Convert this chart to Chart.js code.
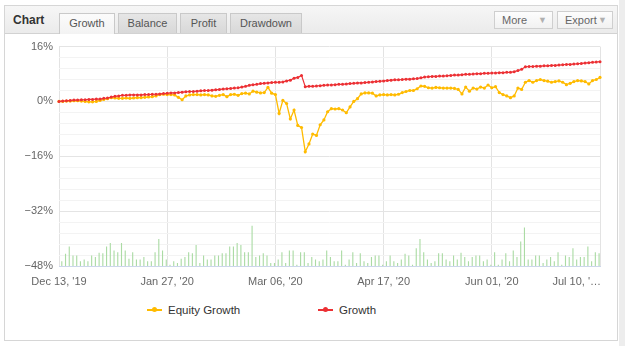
<!DOCTYPE html>
<html lang="en">
<head>
<meta charset="UTF-8">
<title>Chart - Growth</title>
<script src="https://cdn.jsdelivr.net/npm/chart.js@4.4.1/dist/chart.umd.min.js"></script>
<style>
    body { margin: 0; background: #fff; font-family: "Liberation Sans", Arial, sans-serif; }
    #panel { position: absolute; left: 4px; top: 5px; width: 612px; height: 334px; border: 1px solid #d6d6d6; background: #fff; }
    #head { position: absolute; left: 0; top: 0; width: 612px; height: 27px; background: linear-gradient(#f6f6f6, #ebebeb); border-bottom: 1px solid #d2d2d2; }
    #head .title { position: absolute; left: 8px; top: 7px; font-size: 12px; font-weight: bold; color: #333; }
    .tab { position: absolute; top: 7px; height: 19px; line-height: 19px; text-align: center; font-size: 11px; color: #555;
           border: 1px solid #c9c9c9; border-bottom: none; background: linear-gradient(#e6e6e6, #d8d8d8); }
    .tab.on { background: linear-gradient(#fbfbfb, #f3f3f3); height: 20px; }
    .btn { position: absolute; top: 5px; height: 16px; line-height: 16px; font-size: 11px; color: #666; padding-left: 7px;
           border: 1px solid #cfcfcf; background: linear-gradient(#fdfdfd, #f1f1f1); }
    .btn span { position: absolute; right: 5px; top: 0; font-size: 9px; color: #b0b0b0; }
    #wrap { position: absolute; left: 5px; top: 34px; width: 607px; height: 262px; }
    .lg { position: absolute; top: 302px; font-size: 11.5px; color: #333; height: 16px; line-height: 16px; }
    .lg i { display: inline-block; position: relative; width: 15px; height: 2px; vertical-align: middle; margin: 0 6px 2px 0; }
    .lg i::after { content: ""; position: absolute; left: 5px; top: -1.5px; width: 5px; height: 5px; border-radius: 50%; background: inherit; }
    #side { position: absolute; left: 619px; top: 0; width: 6px; height: 346px; background: #ededed; }
</style>
</head>
<body>
<div id="panel">
    <div id="head">
        <div class="title">Chart</div>
        <div class="tab on" style="left:54px;width:54px">Growth</div>
        <div class="tab" style="left:113px;width:57px">Balance</div>
        <div class="tab" style="left:175px;width:45px">Profit</div>
        <div class="tab" style="left:225px;width:70px">Drawdown</div>
        <div class="btn" style="left:489px;width:50px">More<span>&#9660;</span></div>
        <div class="btn" style="left:552px;width:47px">Export<span>&#9660;</span></div>
    </div>
</div>
<div id="side"></div>
<div id="wrap"><canvas id="growthChart"></canvas></div>
<div class="lg" style="left:147px"><i style="background:#ffbb00"></i>Equity Growth</div>
<div class="lg" style="left:318px"><i style="background:#ec3034"></i>Growth</div>
<script>
    // x axis tick labels, one every 29 trading days
    const tickLabels = ["Dec 13, '19", "Jan 27, '20", "Mar 06, '20", "Apr 17, '20", "Jun 01, '20", "Jul 10, '\u2026"];
    const tickEvery = 29;

    // Growth (%), closed balance
    const growth = [
        0, 0.1, 0.2, 0.3, 0.4, 0.4, 0.5, 0.5, 0.6, 0.6, 0.7, 0.7, 0.9, 1.0, 1.3, 1.5, 1.6, 1.8, 1.8, 1.9,
        1.9, 1.9, 1.9, 2.0, 2.0, 2.1, 2.1, 2.2, 2.3, 2.4,
        2.5, 2.5, 2.6, 2.7, 2.8, 2.9, 2.9, 3.0, 3.1, 3.2, 3.2, 3.3, 3.4, 3.5, 3.6, 3.7, 3.8, 3.9, 4.0, 4.2,
        4.4, 4.7, 4.9, 5.0, 5.2, 5.3, 5.4, 5.5, 5.6,
        5.6, 5.7, 6.0, 6.2, 6.8, 7.0, 7.6, 4.3, 4.4, 4.4, 4.5, 4.6, 4.7, 4.8, 4.8, 4.9, 5.0, 5.0, 5.1, 5.2,
        5.3, 5.4, 5.4, 5.5, 5.6, 5.7, 5.8, 5.9, 6.0,
        6.1, 6.2, 6.3, 6.3, 6.4, 6.5, 6.5, 6.6, 6.7, 6.9, 7.1, 7.2, 7.3, 7.3, 7.4, 7.4, 7.5, 7.6, 7.7, 7.7,
        7.8, 7.9, 7.9, 8.0, 8.1, 8.1, 8.2, 8.2, 8.3,
        8.3, 8.4, 8.4, 8.5, 8.5, 8.7, 9.0, 9.4, 10.1, 10.2, 10.2, 10.3, 10.3, 10.4, 10.4, 10.5, 10.5, 10.6, 10.7, 10.8,
        10.8, 10.9, 11.0, 11.1, 11.2, 11.3, 11.4, 11.5, 11.6
    ];

    // Equity growth (%), including floating results
    const equityGrowth = [
        0, 0, 0.1, 0.1, 0.2, 0.2, 0.1, 0.0, -0.1, -0.1, 0.0, 0.3, 0.6, 0.8, 1.1, 1.0, 0.9, 0.9, 1.0, 0.9,
        1.0, 1.1, 1.1, 1.2, 1.3, 1.4, 1.6, 2.0, 2.1, 2.0,
        2.0, 1.9, 1.2, 0.5, 1.6, 1.9, 2.0, 2.0, 1.9, 2.0, 1.9, 1.6, 1.5, 1.8, 2.0, 1.4, 2.0, 2.1, 1.8, 2.3,
        2.4, 2.2, 3.0, 2.7, 2.5, 2.6, 4.1, 2.4, 2.0,
        -3.5, 0.3, -0.6, -5.1, -2.5, -7.0, -7.6, -14.7, -12.4, -9.5, -9.9, -6.8, -5.4, -3.0, -2.1, -2.2, -2.1, -2.5, -3.3, -1.6,
        0.0, 0.8, 2.2, 2.5, 2.5, 2.4, 1.6, 1.9, 2.0,
        1.9, 2.0, 1.9, 2.1, 2.6, 2.9, 3.2, 3.2, 3.7, 4.5, 4.4, 4.0, 3.9, 4.1, 4.0, 3.9, 3.9, 3.9, 3.8, 3.5,
        2.2, 4.2, 3.0, 3.9, 3.6, 4.2, 3.9, 4.8, 4.0,
        4.3, 2.6, 2.0, 1.6, 1.1, 1.6, 3.9, 3.5, 5.6, 6.1, 5.6, 6.1, 6.4, 6.1, 5.9, 5.6, 5.8, 6.0, 5.6, 4.9,
        5.3, 5.8, 6.1, 6.0, 5.8, 5.1, 6.1, 6.4, 7.0
    ];

    // daily activity bars along the bottom (relative units)
    const dailyActivity = [
        4.7, 12.3, 19.7, 10.7, 10.7, 4.7, 6.7, 4.7, 10.7, 9, 13.3, 13, 19.7, 23.3, 15.7, 14, 23.3, 15.7, 7.3, 14,
        6.7, 6.7, 9, 4.7, 4.7, 14, 27.3, 15.7, 6.7, 1.3, 4.7, 3, 7.3, 9, 14, 13, 21.3, 3, 10.7, 6.7,
        6.7, 10.7, 10.7, 13, 13, 19.7, 19.7, 23.3, 21.3, 14, 14, 40.7, 9, 10.7, 13, 10.7, 3, 3, 6.7, 14,
        3, 15.7, 15.7, 1.3, 14, 14, 3, 9, 6.7, 4.7, 6.7, 15.7,
        9, 4.7, 4.7, 15.7, 1.3, 6.7, 14, 3, 13, 4.7, 3, 9, 10.7, 10.7, 1.3, 4.7, 10.7, 4.7, 3, 6.7,
        12.3, 10.7, 1.3, 18, 27.3, 14, 6.7, 3, 4.7, 13, 13, 6.7, 4.7, 10.7, 6.7, 13.3, 9, 4.7, 9, 10.7,
        10.7, 4.7, 6.7, 1.3, 14, 1.3, 6.7, 13, 4.7, 15.7, 9, 24.7, 39, 6.7, 6.7, 10.7, 10.7, 3, 6.7, 9,
        4.7, 14, 1.3, 10.7, 9, 18, 6.7, 9, 9, 19.7, 4.7, 14, 13
    ];
    const activityMax = 222;

    const days = growth.map((_, i) => i);
    const activityDays = dailyActivity.map((_, i) => i);

    Chart.defaults.font.family = '"Liberation Sans", Arial, sans-serif';
    Chart.defaults.font.size = 11;
    Chart.defaults.color = '#666';

    const isMajor = (v) => Math.abs(v % 16) < 0.01;

    // draw the date labels under the plot (last one flush right like the original)
    const dateLabels = {
        id: 'dateLabels',
        afterDraw(chart) {
            const {ctx, chartArea, scales} = chart;
            ctx.save();
            ctx.font = '11px "Liberation Sans", Arial, sans-serif';
            ctx.fillStyle = '#666';
            ctx.textBaseline = 'middle';
            tickLabels.forEach((label, k) => {
                const px = scales.x.getPixelForValue(k * tickEvery);
                ctx.textAlign = k === tickLabels.length - 1 ? 'right' : 'center';
                ctx.fillText(label, px + (k === tickLabels.length - 1 ? 1 : 0), chartArea.bottom + 16);
            });
            ctx.restore();
        }
    };

    new Chart(document.getElementById('growthChart'), {
        type: 'line',
        data: {
            labels: days,
            datasets: [
                {
                    label: 'Growth',
                    data: growth,
                    borderColor: '#ec3034',
                    backgroundColor: '#ec3034',
                    borderWidth: 1.2,
                    pointRadius: 1.5,
                    pointBorderWidth: 0,
                    tension: 0,
                    order: 0
                },
                {
                    label: 'Equity Growth',
                    data: equityGrowth,
                    borderColor: '#ffbb00',
                    backgroundColor: '#ffbb00',
                    borderWidth: 1.3,
                    pointRadius: 1.6,
                    pointBorderWidth: 0,
                    tension: 0,
                    order: 1
                },
                {
                    type: 'bar',
                    label: 'Activity',
                    data: dailyActivity,
                    backgroundColor: '#abdba4',
                    xAxisID: 'x2',
                    yAxisID: 'yBar',
                    barPercentage: 0.6,
                    categoryPercentage: 1,
                    order: 2
                }
            ]
        },
        options: {
            responsive: true,
            maintainAspectRatio: false,
            animation: false,
            layout: { padding: { top: 10, right: 12, left: 0, bottom: 0 } },
            plugins: {
                legend: { display: false },
                tooltip: { enabled: false }
            },
            scales: {
                x: {
                    type: 'category',
                    offset: false,
                    ticks: { display: false },
                    grid: {
                        drawTicks: false,
                        color: (c) => (c.tick && c.tick.value % tickEvery === 0 ? '#e3e3e3' : 'rgba(0,0,0,0)')
                    },
                    border: { color: '#ccd6eb', width: 1 },
                    afterFit: (s) => { s.height = 30; }
                },
                x2: {
                    type: 'category',
                    labels: activityDays,
                    offset: true,
                    display: false
                },
                y: {
                    min: -48,
                    max: 16,
                    ticks: {
                        stepSize: 3.2,
                        autoSkip: false,
                        padding: 6,
                        color: '#666',
                        callback: (v) => (isMajor(v) ? (v < 0 ? '\u2212' + Math.abs(v) : v) + '%' : '')
                    },
                    grid: {
                        drawTicks: false,
                        color: (c) => (c.tick && isMajor(c.tick.value) ? '#e4e4e4' : '#f3f3f3')
                    },
                    border: { display: false },
                    afterFit: (s) => { s.width = 54; }
                },
                yBar: {
                    min: 0,
                    max: activityMax,
                    display: false
                }
            }
        },
        plugins: [dateLabels]
    });
</script>
</body>
</html>
